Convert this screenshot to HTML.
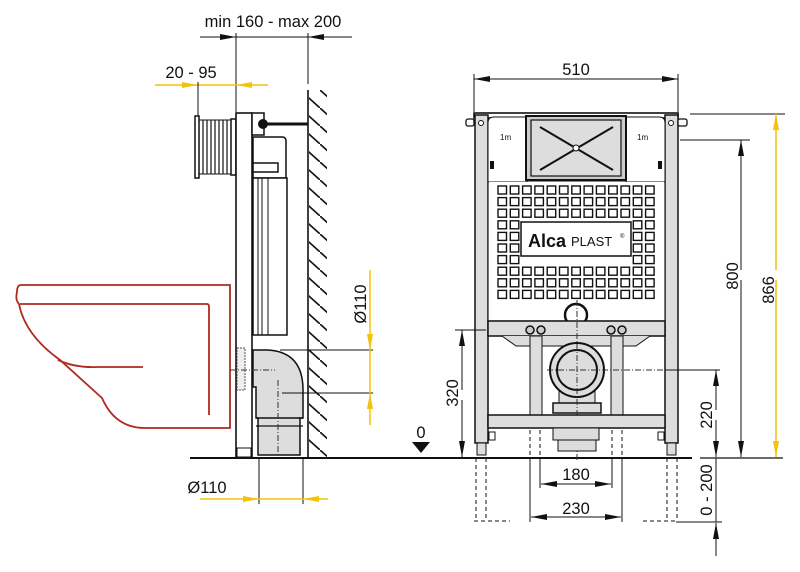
<!DOCTYPE html>
<html><head><meta charset="utf-8"><style>
html,body{margin:0;padding:0;background:#fff;}
svg{display:block;font-family:"Liberation Sans",sans-serif;}
</style></head><body>
<svg width="800" height="572" viewBox="0 0 800 572" xmlns="http://www.w3.org/2000/svg">
<defs>
<marker id="a" viewBox="0 0 16 6" refX="16" refY="3" markerWidth="16" markerHeight="6" markerUnits="userSpaceOnUse" orient="auto"><path d="M0,0L16,3L0,6z" fill="#111"/></marker>
<marker id="y" viewBox="0 0 16 6" refX="16" refY="3" markerWidth="16" markerHeight="6" markerUnits="userSpaceOnUse" orient="auto"><path d="M0,0L16,3L0,6z" fill="#f3c20c"/></marker>
<pattern id="hatch" width="20" height="18" patternUnits="userSpaceOnUse"><path d="M0,0L20,18" stroke="#111" stroke-width="1.6"/></pattern>
</defs>
<g font-size="16.5" fill="#111">
<text x="273" y="27" text-anchor="middle">min 160 - max 200</text>
<line x1="200" y1="37" x2="236" y2="37" stroke="#111" marker-end="url(#a)"/>
<line x1="236" y1="37" x2="308" y2="37" stroke="#111"/>
<line x1="352" y1="37" x2="308" y2="37" stroke="#111" marker-end="url(#a)"/>
<line x1="236" y1="33" x2="236" y2="112" stroke="#111"/>
<line x1="308" y1="33" x2="308" y2="84" stroke="#111"/>
<text x="191" y="78" text-anchor="middle">20 - 95</text>
<line x1="155" y1="85" x2="198" y2="85" stroke="#f3c20c" stroke-width="1.5" marker-end="url(#y)"/>
<line x1="268" y1="85" x2="236" y2="85" stroke="#f3c20c" stroke-width="1.5" marker-end="url(#y)"/>
<line x1="198" y1="85" x2="236" y2="85" stroke="#f3c20c" stroke-width="1.5"/>
<line x1="198" y1="82" x2="198" y2="117" stroke="#111"/>
<line x1="308" y1="90" x2="308" y2="458" stroke="#111" stroke-width="1.6"/>
<rect x="309" y="90" width="18" height="368" fill="url(#hatch)"/>
<rect x="195" y="116" width="4" height="62" fill="#fff" stroke="#111" stroke-width="1.5"/>
<g stroke="#111" stroke-width="1.2">
<line x1="203" y1="120" x2="203" y2="174"/><line x1="207" y1="120" x2="207" y2="174"/><line x1="211" y1="120" x2="211" y2="174"/><line x1="215" y1="120" x2="215" y2="174"/><line x1="219" y1="120" x2="219" y2="174"/><line x1="223" y1="120" x2="223" y2="174"/><line x1="227" y1="120" x2="227" y2="174"/></g>
<line x1="199" y1="120" x2="232" y2="120" stroke="#111"/><line x1="199" y1="174" x2="232" y2="174" stroke="#111"/>
<rect x="231" y="119" width="5" height="56" fill="#fff" stroke="#111" stroke-width="1.5"/>
<rect x="236" y="113" width="16" height="345" fill="#fff" stroke="#111" stroke-width="1.6"/>
<rect x="252" y="113" width="12" height="22" fill="#fff" stroke="#111" stroke-width="1.5"/>
<line x1="262" y1="124" x2="308" y2="124" stroke="#111" stroke-width="3"/>
<circle cx="263" cy="124" r="5" fill="#111"/>
<path d="M253,137 H282 Q286,137 286,141 V178 H253z" fill="#fff" stroke="#111" stroke-width="1.5"/>
<rect x="253" y="163" width="25" height="9" fill="#fff" stroke="#111" stroke-width="1.5"/>
<rect x="253" y="178" width="34" height="157" fill="#fff" stroke="#111" stroke-width="1.5"/>
<line x1="258" y1="178" x2="258" y2="335" stroke="#111"/><line x1="262" y1="178" x2="262" y2="335" stroke="#111"/><line x1="268" y1="178" x2="268" y2="335" stroke="#111"/>
<rect x="237" y="448" width="14" height="9" fill="#fff" stroke="#111"/>
<g fill="none" stroke="#b02a22" stroke-width="1.8">
<path d="M21,285 H230 V428 H145 Q115,428 102,398 L60,360 Q25,335 19,304 Q15,300 17,292 Q17,285 21,285"/>
<path d="M20,304 H207 Q209,304 209,307 V415"/>
<path d="M58,360 Q75,368 98,367 H143"/>
</g>
<path d="M253,350 H268 Q303,352 303,390 V418 L300,418 V455 H258 V418 L256,418 V387 H253z" fill="#ddd" stroke="#111" stroke-width="1.5"/>
<line x1="256" y1="418" x2="303" y2="418" stroke="#111" stroke-width="1.5"/>
<line x1="256" y1="426" x2="303" y2="426" stroke="#111" stroke-width="1.2"/>
<rect x="237" y="348" width="8" height="42" fill="#eee" stroke="#555" stroke-width="1" stroke-dasharray="2 1"/>
<line x1="230" y1="370" x2="275" y2="370" stroke="#333" stroke-dasharray="6 2 1 2"/>
<line x1="278" y1="380" x2="278" y2="458" stroke="#333" stroke-dasharray="6 2 1 2"/>
<line x1="280" y1="350" x2="373" y2="350" stroke="#111"/>
<line x1="282" y1="393" x2="373" y2="393" stroke="#111"/>
<line x1="370" y1="270" x2="370" y2="350" stroke="#f3c20c" stroke-width="1.5" marker-end="url(#y)"/>
<line x1="370" y1="425" x2="370" y2="393" stroke="#f3c20c" stroke-width="1.5" marker-end="url(#y)"/>
<line x1="370" y1="350" x2="370" y2="393" stroke="#f3c20c" stroke-width="1.5"/>
<text transform="translate(366,304) rotate(-90)" text-anchor="middle">Ø110</text>
<line x1="190" y1="458" x2="692" y2="458" stroke="#111" stroke-width="2"/>
<line x1="700" y1="458" x2="783" y2="458" stroke="#111" stroke-width="1.2"/>
<line x1="259" y1="458" x2="259" y2="504" stroke="#111"/>
<line x1="303" y1="458" x2="303" y2="504" stroke="#111"/>
<text x="207" y="493" text-anchor="middle">Ø110</text>
<line x1="200" y1="499" x2="259" y2="499" stroke="#f3c20c" stroke-width="1.5" marker-end="url(#y)"/>
<line x1="328" y1="499" x2="303" y2="499" stroke="#f3c20c" stroke-width="1.5" marker-end="url(#y)"/>
<line x1="259" y1="499" x2="303" y2="499" stroke="#f3c20c" stroke-width="1.5"/>

<text x="576" y="75" text-anchor="middle">510</text>
<line x1="520" y1="79" x2="474" y2="79" stroke="#111" marker-end="url(#a)"/>
<line x1="630" y1="79" x2="678" y2="79" stroke="#111" marker-end="url(#a)"/>
<line x1="520" y1="79" x2="630" y2="79" stroke="#111"/>
<line x1="474" y1="74" x2="474" y2="112" stroke="#111"/>
<line x1="678" y1="74" x2="678" y2="112" stroke="#111"/>
<rect x="474" y="113" width="204" height="5" fill="#fff" stroke="#111" stroke-width="1.6"/>
<rect x="475" y="115" width="13" height="328" fill="#ddd" stroke="#111" stroke-width="1.5"/>
<rect x="665" y="115" width="13" height="328" fill="#ddd" stroke="#111" stroke-width="1.5"/>
<rect x="477" y="443" width="9" height="12" fill="#ddd" stroke="#111"/>
<rect x="667" y="443" width="9" height="12" fill="#ddd" stroke="#111"/>
<circle cx="481" cy="123" r="2.5" fill="#fff" stroke="#111"/><circle cx="671" cy="123" r="2.5" fill="#fff" stroke="#111"/>
<rect x="466" y="119" width="8" height="7" rx="2" fill="#fff" stroke="#111" stroke-width="1.3"/>
<rect x="678" y="119" width="9" height="7" rx="2" fill="#fff" stroke="#111" stroke-width="1.3"/>
<path d="M488,182 V123 Q488,117 494,117 H527 V182z" fill="#fff" stroke="#111"/>
<path d="M665,182 V123 Q665,117 659,117 H626 V182z" fill="#fff" stroke="#111"/>
<rect x="526" y="116" width="100" height="64" fill="#ccc" stroke="#111" stroke-width="2"/>
<rect x="531" y="120" width="90" height="56" fill="#ddd" stroke="#111" stroke-width="1.2"/>
<line x1="540" y1="127" x2="613" y2="170" stroke="#111" stroke-width="2"/>
<line x1="613" y1="127" x2="540" y2="170" stroke="#111" stroke-width="2"/>
<circle cx="576" cy="148" r="3" fill="#fff" stroke="#111"/>
<text x="500" y="140" font-size="8">1m</text><text x="637" y="140" font-size="8">1m</text>
<rect x="490" y="161" width="4" height="8" fill="#111"/><rect x="658" y="161" width="4" height="8" fill="#111"/>
<rect x="488" y="182" width="177" height="139" fill="#ddd" stroke="#111" stroke-width="1"/>
<rect x="489" y="182" width="175" height="138" fill="#fff"/>
<g id="grid" fill="#fff" stroke="#111" stroke-width="1.4"></g>
<rect x="521" y="222" width="110" height="34" fill="#fff" stroke="#111" stroke-width="1.5"/>
<text x="528" y="247" font-size="18" font-weight="bold">Alca</text>
<text x="571" y="246" font-size="13">PLAST</text>
<text x="620" y="238" font-size="6">®</text>
<circle cx="576" cy="315" r="11" fill="#fff" stroke="#111" stroke-width="2.5"/>
<rect x="488" y="321" width="177" height="15" fill="#ddd" stroke="#111" stroke-width="1.5"/>
<path d="M502,336 L516,346 H636 L650,336" fill="#ddd" stroke="#111"/>
<rect x="530" y="336" width="12" height="79" fill="#ddd" stroke="#111"/>
<rect x="611" y="336" width="12" height="79" fill="#ddd" stroke="#111"/>
<g fill="#ccc" stroke="#111" stroke-width="1.5"><circle cx="530" cy="330" r="4"/><circle cx="541" cy="330" r="4"/><circle cx="611" cy="330" r="4"/><circle cx="622" cy="330" r="4"/></g>
<rect x="559" y="385" width="36" height="18" fill="#ddd" stroke="#111"/>
<rect x="553" y="403" width="48" height="10" fill="#ddd" stroke="#111" stroke-width="1.5"/>
<circle cx="577" cy="370" r="27" fill="#ddd" stroke="#111" stroke-width="2"/>
<circle cx="577" cy="370" r="20" fill="#ddd" stroke="#111" stroke-width="2"/>
<line x1="547" y1="370" x2="665" y2="370" stroke="#333" stroke-dasharray="6 2 1 2"/>
<line x1="577" y1="300" x2="577" y2="460" stroke="#333" stroke-dasharray="6 2 1 2"/>
<rect x="488" y="415" width="177" height="13" fill="#ddd" stroke="#111" stroke-width="1.5"/>
<rect x="553" y="428" width="46" height="12" fill="#ddd" stroke="#111"/>
<rect x="558" y="440" width="38" height="11" fill="#ddd" stroke="#111"/>
<rect x="489" y="432" width="6" height="8" fill="#fff" stroke="#111"/><rect x="658" y="432" width="6" height="8" fill="#fff" stroke="#111"/>
<text x="421" y="438" text-anchor="middle">0</text>
<path d="M412,442 H430 L421,453z" fill="#111"/>
<line x1="455" y1="330" x2="486" y2="330" stroke="#111"/>
<line x1="462" y1="390" x2="462" y2="330" stroke="#111" marker-end="url(#a)"/>
<line x1="462" y1="400" x2="462" y2="457" stroke="#111" marker-end="url(#a)"/>
<text transform="translate(458,393) rotate(-90)" text-anchor="middle">320</text>
<line x1="665" y1="370" x2="720" y2="370" stroke="#111"/>
<line x1="716" y1="410" x2="716" y2="370" stroke="#111" marker-end="url(#a)"/>
<line x1="716" y1="420" x2="716" y2="457" stroke="#111" marker-end="url(#a)"/>
<text transform="translate(712,415) rotate(-90)" text-anchor="middle">220</text>
<line x1="680" y1="140" x2="750" y2="140" stroke="#111"/>
<line x1="741" y1="270" x2="741" y2="140" stroke="#111" marker-end="url(#a)"/>
<line x1="741" y1="280" x2="741" y2="457" stroke="#111" marker-end="url(#a)"/>
<text transform="translate(738,276) rotate(-90)" text-anchor="middle">800</text>
<line x1="690" y1="114" x2="785" y2="114" stroke="#111"/>
<line x1="776" y1="270" x2="776" y2="114" stroke="#f3c20c" stroke-width="1.5" marker-end="url(#y)"/>
<line x1="776" y1="280" x2="776" y2="457" stroke="#f3c20c" stroke-width="1.5" marker-end="url(#y)"/>
<text transform="translate(774,290) rotate(-90)" text-anchor="middle">866</text>
<line x1="676" y1="522" x2="722" y2="522" stroke="#111"/>
<line x1="716" y1="458" x2="716" y2="522" stroke="#111"/>
<line x1="716" y1="556" x2="716" y2="523" stroke="#111" marker-end="url(#a)"/>
<text transform="translate(712,490) rotate(-90)" text-anchor="middle">0 - 200</text>
<g stroke="#111" stroke-dasharray="4 3" fill="none">
<path d="M476,458 V521 M486,458 V521 M474,521 H510 M667,458 V521 M677,458 V521 M643,521 H677"/>
<path d="M530,430 V520 M540,430 V488 M612,430 V488 M622,430 V520"/>
</g>
<line x1="540" y1="458" x2="540" y2="488" stroke="#111"/><line x1="612" y1="458" x2="612" y2="488" stroke="#111"/>
<line x1="530" y1="458" x2="530" y2="522" stroke="#111"/><line x1="622" y1="458" x2="622" y2="522" stroke="#111"/>
<text x="576" y="480" text-anchor="middle">180</text>
<line x1="570" y1="484" x2="541" y2="484" stroke="#111" marker-end="url(#a)"/>
<line x1="582" y1="484" x2="611" y2="484" stroke="#111" marker-end="url(#a)"/>
<line x1="570" y1="484" x2="582" y2="484" stroke="#111"/>
<text x="576" y="514" text-anchor="middle">230</text>
<line x1="565" y1="517" x2="531" y2="517" stroke="#111" marker-end="url(#a)"/>
<line x1="587" y1="517" x2="621" y2="517" stroke="#111" marker-end="url(#a)"/>
<line x1="565" y1="517" x2="587" y2="517" stroke="#111"/>
</g>
<script>
(function(){var g=document.getElementById('grid');var ns='http://www.w3.org/2000/svg';
for(var r=0;r<10;r++)for(var c=0;c<13;c++){var x=498+c*12.3,y=186+r*11.6;
if(x>515&&x<632&&y>215&&y<258)continue;
var e=document.createElementNS(ns,'rect');e.setAttribute('x',x);e.setAttribute('y',y);e.setAttribute('width',8.5);e.setAttribute('height',8);g.appendChild(e);}})();
</script>
</svg>
</body></html>
